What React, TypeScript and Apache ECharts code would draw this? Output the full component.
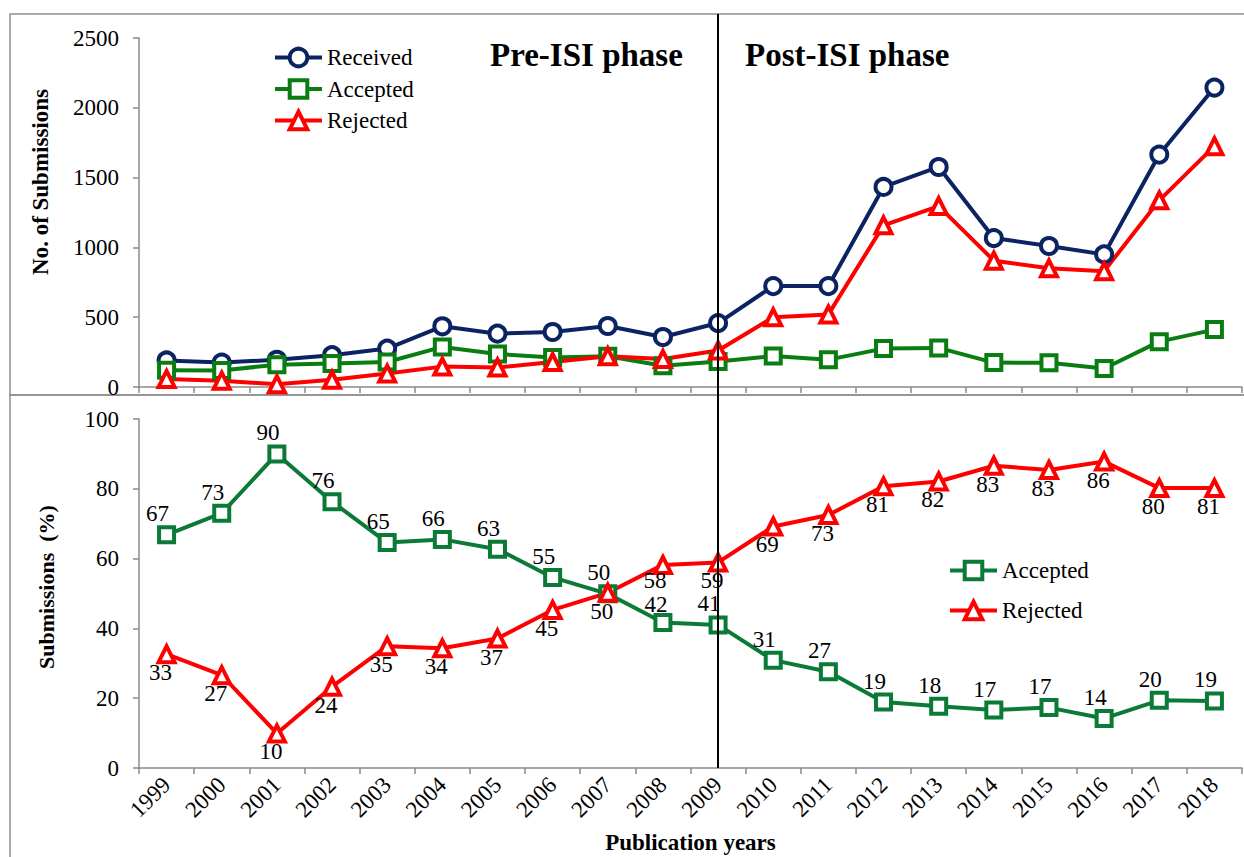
import React, { useEffect, useRef } from "react";
import * as echarts from "echarts";

const years = ["1999","2000","2001","2002","2003","2004","2005","2006","2007","2008","2009","2010","2011","2012","2013","2014","2015","2016","2017","2018"];

const receivedCount = [190, 175, 195, 228, 275, 435, 382, 394, 437, 358, 458, 723, 723, 1433, 1576, 1067, 1010, 950, 1665, 2145];
const acceptedCount = [120, 118, 160, 168, 179, 287, 236, 212, 220, 152, 182, 222, 196, 275, 280, 175, 174, 133, 325, 411];
const rejectedCount = [58, 45, 20, 52, 96, 146, 140, 179, 220, 200, 262, 499, 520, 1158, 1296, 905, 850, 830, 1337, 1725];

const acceptedPct = [66.8, 73.0, 90.0, 76.3, 64.6, 65.5, 62.7, 54.6, 49.9, 41.7, 41.0, 30.9, 27.6, 18.9, 17.7, 16.6, 17.3, 14.2, 19.4, 19.2];
const rejectedPct = [32.6, 26.6, 9.9, 23.3, 34.9, 34.3, 37.1, 45.3, 50.2, 58.2, 58.9, 69.2, 72.5, 80.7, 82.1, 86.6, 85.4, 87.8, 80.2, 80.2];
const acceptedLabels = [67, 73, 90, 76, 65, 66, 63, 55, 50, 42, 41, 31, 27, 19, 18, 17, 17, 14, 20, 19];
const rejectedLabels = [33, 27, 10, 24, 35, 34, 37, 45, 50, 58, 59, 69, 73, 81, 82, 83, 83, 86, 80, 81];

const phaseYear = "2009";
const crowdedYear = "2008";

const NAVY = "#0b2461";
const GREEN_TOP = "#0a7d12";
const GREEN_BOT = "#0a7a36";
const RED = "#ff0000";
const AXIS = "#8a8a8a";
const FONT = "Liberation Serif";
const FS = 23;
const LW = 4;

export default function App() {
  const ref = useRef<HTMLDivElement>(null);
  useEffect(() => {
    if (!ref.current) return;
    const chart = echarts.init(ref.current, null, { renderer: "svg" });

    const catAxis = (gi: number, extra: any = {}) => ({
      gridIndex: gi,
      type: "category",
      data: years,
      boundaryGap: true,
      axisLine: { show: true, lineStyle: { color: AXIS, width: 1.5 } },
      axisTick: { show: true, interval: 0, length: 6, lineStyle: { color: AXIS, width: 1.5 } },
      axisLabel: { show: false },
      ...extra,
    });
    const valAxis = (gi: number, max: number, interval: number) => ({
      gridIndex: gi,
      type: "value",
      min: 0,
      max,
      interval,
      axisLine: { show: true, lineStyle: { color: AXIS, width: 1.5 } },
      axisTick: { show: true, length: 6, lineStyle: { color: AXIS, width: 1.5 } },
      splitLine: { show: false },
      axisLabel: { fontSize: FS, color: "#000", fontFamily: FONT, margin: 20, formatter: (v: number) => String(v) },
    });

    const lineSeries = (name: string, data: any[], gi: number, color: string, symbol: string, extra: any = {}) => ({
      name,
      type: "line",
      xAxisIndex: gi,
      yAxisIndex: gi,
      data,
      symbol,
      symbolSize: symbol === "triangle" ? 16 : 15,
      color,
      lineStyle: { color, width: LW },
      itemStyle: { color: "#fff", borderColor: color, borderWidth: LW },
      ...extra,
    });

    const labelCfg = (labels: number[], position: string, offset: number[], distance: number) => ({
      show: true,
      position,
      distance,
      offset,
      fontSize: FS,
      color: "#000",
      fontFamily: FONT,
      formatter: (p: any) => String(labels[p.dataIndex]),
    });

    // nudge the two labels of the crowded year apart a little
    const withNudge = (vals: number[], offset: number[]) =>
      vals.map((v, i) => (years[i] === crowdedYear ? { value: v, label: { offset } } : v));

    const legendText = { fontSize: FS, color: "#000", fontFamily: FONT };
    const legendItem = (name: string, color: string) => ({
      name,
      itemStyle: { color: "#fff", borderColor: color, borderWidth: LW },
      lineStyle: { color, width: LW },
    });

    const option: any = {
      animation: false,
      backgroundColor: "#fff",
      textStyle: { fontFamily: FONT },
      grid: [
        { left: 139, right: 2, top: 38, height: 349 },
        { left: 139, right: 2, top: 419, height: 349 },
        { left: 139, right: 2, top: 14, height: 754 },
      ],
      xAxis: [
        catAxis(0),
        catAxis(1, {
          axisLabel: { show: true, interval: 0, rotate: 45, fontSize: FS, color: "#000", fontFamily: FONT, margin: 13 },
          name: "Publication years",
          nameLocation: "middle",
          nameGap: 63,
          nameTextStyle: { fontSize: FS, fontWeight: "bold", color: "#000", fontFamily: FONT },
        }),
        { gridIndex: 2, type: "category", data: years, show: false },
      ],
      yAxis: [
        valAxis(0, 2500, 500),
        valAxis(1, 100, 20),
        { gridIndex: 2, type: "value", show: false, min: 0, max: 1 },
      ],
      legend: [
        {
          orient: "vertical",
          left: 273,
          top: 46,
          padding: 0,
          itemWidth: 47,
          itemHeight: 22,
          itemGap: 8.5,
          textStyle: legendText,
          data: [legendItem("Received", NAVY), legendItem("Accepted", GREEN_TOP), legendItem("Rejected", RED)],
        },
        {
          orient: "vertical",
          left: 948,
          top: 559,
          padding: 0,
          itemWidth: 47,
          itemHeight: 22,
          itemGap: 17,
          textStyle: legendText,
          data: [legendItem("Accepted", GREEN_BOT), legendItem("Rejected", RED)],
        },
      ],
      series: [
        lineSeries("Received", receivedCount, 0, NAVY, "circle", { symbolSize: 16 }),
        lineSeries("Accepted", acceptedCount, 0, GREEN_TOP, "rect"),
        lineSeries("Rejected", rejectedCount, 0, RED, "triangle"),
        lineSeries("Accepted", withNudge(acceptedPct, [-7, 3]), 1, GREEN_BOT, "rect", { label: labelCfg(acceptedLabels, "top", [-9, 0], 0) }),
        lineSeries("Rejected", withNudge(rejectedPct, [-8, -3]), 1, RED, "triangle", { label: labelCfg(rejectedLabels, "bottom", [-6, 0], -3) }),
        {
          name: "phase",
          type: "line",
          xAxisIndex: 2,
          yAxisIndex: 2,
          data: [],
          silent: true,
          markLine: {
            silent: true,
            symbol: "none",
            label: { show: false },
            lineStyle: { color: "#000", width: 2, type: "solid" },
            data: [{ xAxis: phaseYear }],
          },
        },
      ],
      graphic: [
        { type: "rect", shape: { x: 10, y: 14, width: 1240, height: 381 }, style: { fill: "none", stroke: "#8f8f8f", lineWidth: 1.5 }, silent: true },
        { type: "rect", shape: { x: 10, y: 395, width: 1240, height: 480 }, style: { fill: "none", stroke: "#8f8f8f", lineWidth: 1.5 }, silent: true },
        { type: "text", x: 490, y: 55, style: { text: "Pre-ISI phase", fontSize: 33, fontWeight: "bold", fontFamily: FONT, fill: "#000", verticalAlign: "middle" } },
        { type: "text", x: 745, y: 55, style: { text: "Post-ISI phase", fontSize: 33, fontWeight: "bold", fontFamily: FONT, fill: "#000", verticalAlign: "middle" } },
        { type: "text", x: 40, y: 182, rotation: Math.PI / 2, style: { text: "No. of Submissions", fontSize: FS, fontWeight: "bold", fontFamily: FONT, fill: "#000", align: "center", verticalAlign: "middle" } },
        { type: "text", x: 46, y: 587, rotation: Math.PI / 2, style: { text: "Submissions  (%)", fontSize: 22, fontWeight: "bold", fontFamily: FONT, fill: "#000", align: "center", verticalAlign: "middle" } },
      ],
    };
    chart.setOption(option);
    return () => chart.dispose();
  }, []);
  return <div ref={ref} style={{ position: "fixed", left: 0, top: 0, width: 1244, height: 857 }} />;
}
